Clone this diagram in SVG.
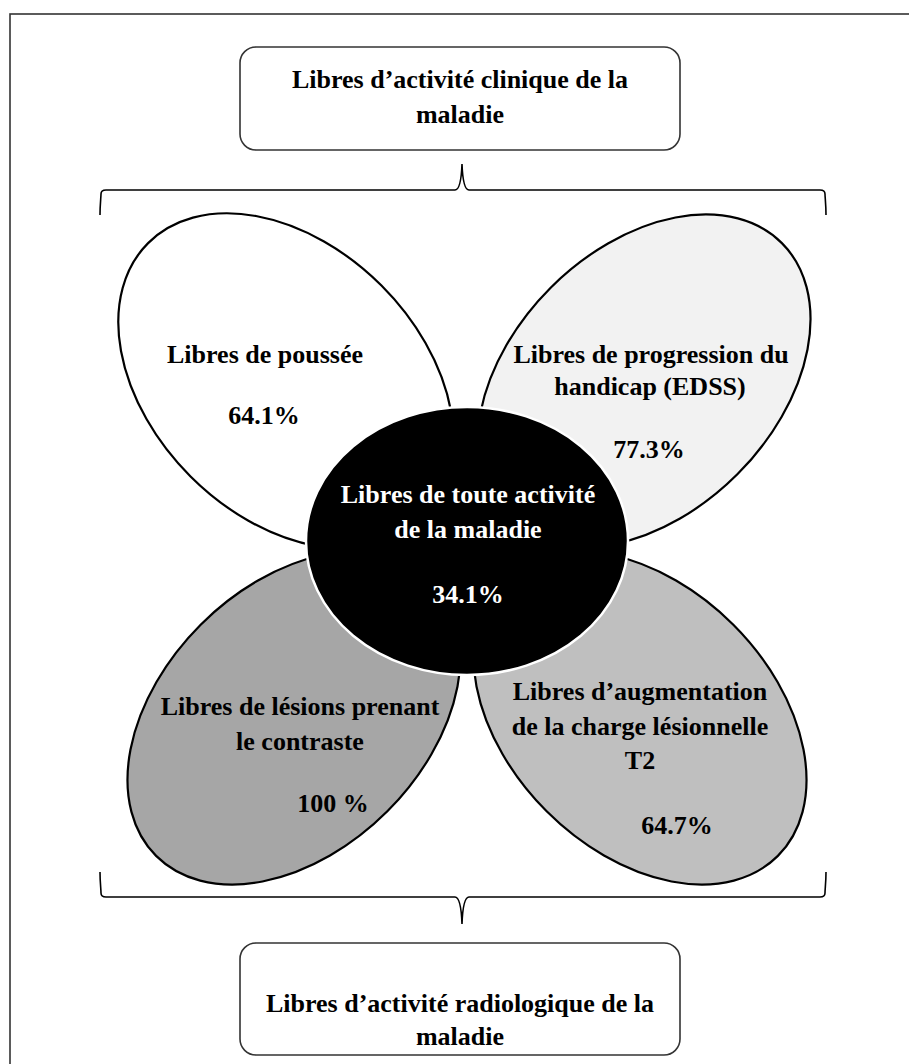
<svg xmlns="http://www.w3.org/2000/svg" width="909" height="1064" viewBox="0 0 909 1064">
<style>
.t{font-family:"Liberation Serif","Times New Roman",serif;font-weight:bold;font-size:26px;fill:#000;text-anchor:middle}
.w{fill:#fff}
.box{fill:#fff;stroke:#333;stroke-width:1.6}
.petal{stroke:#000;stroke-width:2.2}
.brace{fill:none;stroke:#000;stroke-width:1.6}
</style>
<rect x="0" y="0" width="909" height="1064" fill="#fff"/>
<rect x="10" y="14" width="960" height="1100" fill="none" stroke="#333" stroke-width="1.6"/>

<g id="connectors">
<path class="brace" d="M100,215 C100,205 101,197 101,194 Q101,190 106,190 L455,190 Q461,190 462,164 Q463,190 469,190 L820,190 Q825,190 825,194 C825,197 826,205 826,215"/>
<path class="brace" d="M100,872 C100,882 101,889 101,893 Q101,897 106,897 L455,897 Q461,897 462,924 Q463,897 469,897 L820,897 Q825,897 825,893 C825,889 826,882 826,872"/>
</g>

<g id="clinique">
<rect class="box" x="240" y="47" width="440" height="103" rx="16"/>
<text class="t" x="460" y="88">Libres d’activité clinique de la</text>
<text class="t" x="460" y="123">maladie</text>
</g>

<g id="poussee">
<ellipse class="petal" cx="286" cy="381" rx="195" ry="135" fill="#fff" transform="rotate(45 286 381)"/>
<text class="t" x="265" y="363">Libres de poussée</text>
<text class="t" x="264" y="424">64.1%</text>
</g>

<g id="progression">
<ellipse class="petal" cx="644" cy="381" rx="195" ry="132" fill="#f2f2f2" transform="rotate(-45 644 381)"/>
<text class="t" x="651" y="363">Libres de progression du</text>
<text class="t" x="650" y="395">handicap (EDSS)</text>
<text class="t" x="649" y="458">77.3%</text>
</g>

<g id="lesions">
<ellipse class="petal" cx="294" cy="718" rx="195" ry="132" fill="#a6a6a6" transform="rotate(-45 294 718)"/>
<text class="t" x="300" y="715">Libres de lésions prenant</text>
<text class="t" x="300" y="750">le contraste</text>
<text class="t" x="333" y="812">100 %</text>
</g>

<g id="charge">
<ellipse class="petal" cx="640" cy="718" rx="195" ry="132" fill="#bfbfbf" transform="rotate(45 640 718)"/>
<text class="t" x="640" y="700">Libres d’augmentation</text>
<text class="t" x="640" y="735">de la charge lésionnelle</text>
<text class="t" x="640" y="769">T2</text>
<text class="t" x="677" y="834">64.7%</text>
</g>

<g id="toute">
<ellipse cx="467" cy="541" rx="161" ry="134" fill="#000" stroke="#fff" stroke-width="2.5"/>
<text class="t w" x="468" y="503">Libres de toute activité</text>
<text class="t w" x="468" y="538">de la maladie</text>
<text class="t w" x="468" y="603">34.1%</text>
</g>

<g id="radiologique">
<rect class="box" x="240" y="943" width="440" height="112" rx="16"/>
<text class="t" x="460" y="1012">Libres d’activité radiologique de la</text>
<text class="t" x="460" y="1045">maladie</text>
</g>
</svg>
